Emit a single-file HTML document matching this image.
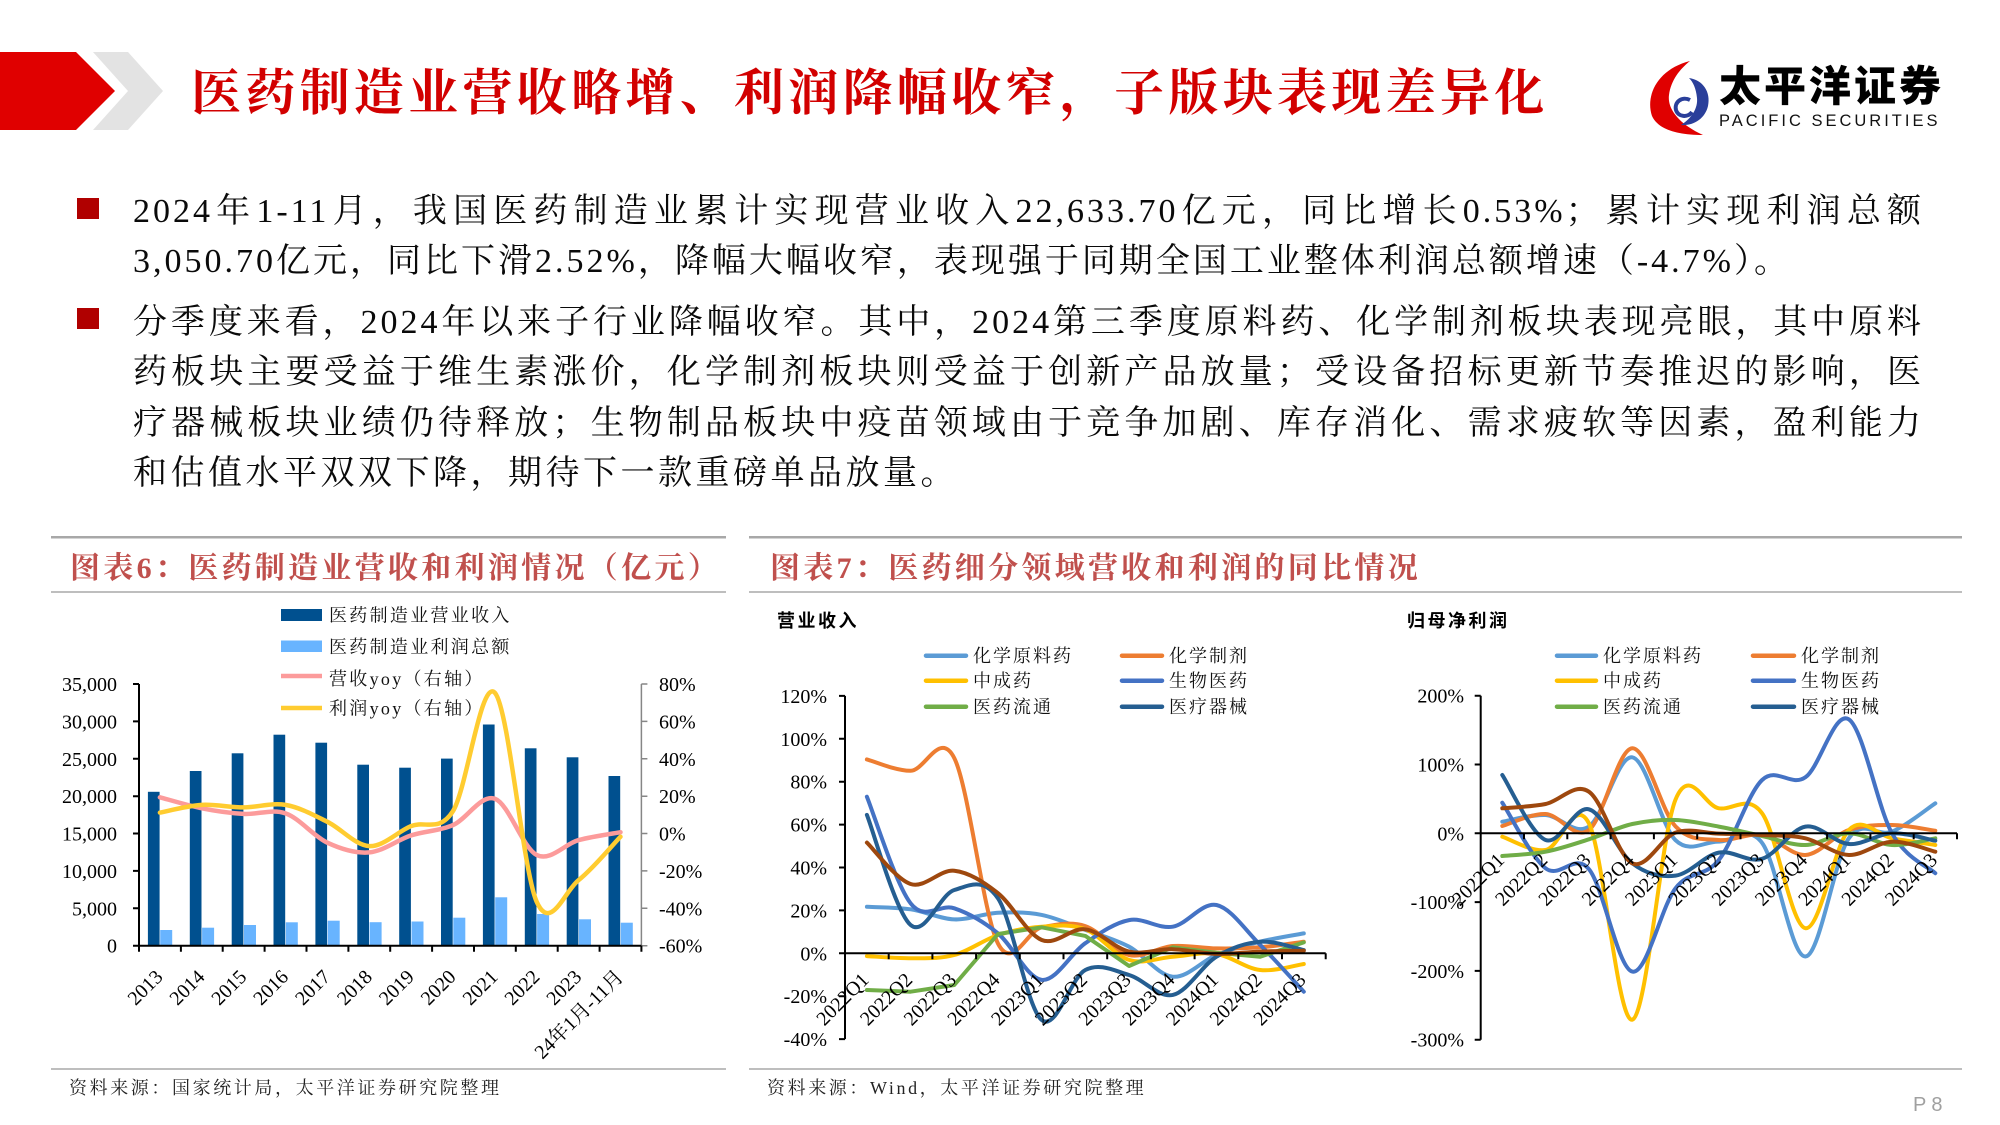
<!DOCTYPE html>
<html><head><meta charset="utf-8">
<style>
html,body{margin:0;padding:0;background:#fff;}
body{width:2000px;height:1125px;position:relative;overflow:hidden;font-family:"Liberation Serif","Noto Serif CJK SC",serif;}
svg{position:absolute;left:0;top:0;}
.ln{position:absolute;left:133px;width:1791px;font-size:34px;line-height:50px;letter-spacing:3px;color:#0a0a0a;white-space:normal;}
.j{text-align:justify;text-align-last:justify;}
.sq{position:absolute;left:77px;width:22px;height:21px;background:#b00000;}
</style></head><body>
<svg width="2000" height="1125" viewBox="0 0 2000 1125" xmlns="http://www.w3.org/2000/svg">
<!-- header -->
<polygon points="0,52 76,52 115,91 76,130 0,130" fill="#e00000"/>
<polygon points="93,52 128,52 163,91 128,130 93,130 128,91" fill="#e3e3e3"/>
<text x="191" y="110" font-family="'Noto Serif CJK SC','Liberation Serif',serif" font-weight="700" font-size="50" letter-spacing="4.3" fill="#d20000">医药制造业营收略增、利润降幅收窄，子版块表现差异化</text>
<!-- logo -->
<path d="M1690,61 C1658,69 1645,95 1652,116 C1658,129 1676,135 1703,135 C1681,125 1667,110 1669,95 C1671,80 1680,69 1690,61 Z" fill="#e00000"/>
<path d="M1689,78 C1703,80 1711,92 1708,106 C1705,119 1693,126 1681,125 C1692,118 1698,108 1697,98 C1696,88 1693,82 1689,78 Z" fill="#2a3f9a"/>
<path d="M1690,100 C1682,96 1674,102 1676,110 C1678,117 1688,118 1692,112" fill="none" stroke="#2a3f9a" stroke-width="4"/>
<text x="1719" y="101" font-family="'Noto Sans CJK SC',sans-serif" font-weight="900" font-size="42" letter-spacing="3" fill="#000">太平洋证券</text>
<text x="1719" y="126" font-family="'Liberation Sans',sans-serif" font-size="16.5" letter-spacing="3" fill="#111">PACIFIC SECURITIES</text>

<!-- panel frames -->
<g stroke="#a8a8a8" fill="none">
<line x1="51" y1="537.3" x2="726" y2="537.3" stroke-width="2.5"/>
<line x1="51" y1="592" x2="726" y2="592" stroke-width="1.5"/>
<line x1="51" y1="1069" x2="726" y2="1069" stroke-width="1.5"/>
<line x1="749" y1="537.3" x2="1962" y2="537.3" stroke-width="2.5"/>
<line x1="749" y1="592" x2="1962" y2="592" stroke-width="1.5"/>
<line x1="749" y1="1069" x2="1962" y2="1069" stroke-width="1.5"/>
</g>
<g font-family="'Liberation Serif','Noto Serif CJK SC',serif" font-weight="700" font-size="30" letter-spacing="3.3" fill="#c0504d">
<text x="70" y="578">图表6：医药制造业营收和利润情况（亿元）</text>
<text x="770" y="578">图表7：医药细分领域营收和利润的同比情况</text>
</g>
<g font-family="'Liberation Serif','Noto Serif CJK SC',serif" font-size="18" letter-spacing="2.6" fill="#222">
<text x="69" y="1094">资料来源：国家统计局，太平洋证券研究院整理</text>
<text x="767" y="1094">资料来源：Wind，太平洋证券研究院整理</text>
</g>
<text x="1913" y="1111" font-family="'Liberation Sans',sans-serif" font-size="20" letter-spacing="5" fill="#a0a0a0">P8</text>

<!-- LEFT CHART -->
<g fill="#00508f">
<rect x="147.9" y="791.8" width="11.7" height="153.9"/>
<rect x="189.8" y="771.0" width="11.7" height="174.7"/>
<rect x="231.7" y="753.3" width="11.7" height="192.4"/>
<rect x="273.5" y="734.7" width="11.7" height="211.0"/>
<rect x="315.4" y="742.7" width="11.7" height="203.0"/>
<rect x="357.3" y="764.7" width="11.7" height="181.0"/>
<rect x="399.2" y="767.7" width="11.7" height="178.0"/>
<rect x="441.0" y="758.6" width="11.7" height="187.1"/>
<rect x="482.9" y="724.5" width="11.7" height="221.2"/>
<rect x="524.8" y="748.3" width="11.7" height="197.4"/>
<rect x="566.7" y="757.3" width="11.7" height="188.4"/>
<rect x="608.5" y="776.0" width="11.7" height="169.7"/>
</g>
<g fill="#68b4ff">
<rect x="160.2" y="930.0" width="12" height="15.7"/>
<rect x="202.1" y="927.7" width="12" height="18.0"/>
<rect x="244.0" y="925.0" width="12" height="20.7"/>
<rect x="285.8" y="922.3" width="12" height="23.4"/>
<rect x="327.7" y="920.7" width="12" height="25.0"/>
<rect x="369.6" y="922.2" width="12" height="23.5"/>
<rect x="411.5" y="921.5" width="12" height="24.2"/>
<rect x="453.3" y="917.7" width="12" height="28.0"/>
<rect x="495.2" y="897.3" width="12" height="48.4"/>
<rect x="537.1" y="914.0" width="12" height="31.7"/>
<rect x="579.0" y="919.3" width="12" height="26.4"/>
<rect x="620.8" y="922.7" width="12" height="23.0"/>
</g>
<g id="lc"></g>
<path d="M641.4,684 V945.7 M641.4,684 h6 M641.4,721.4 h6 M641.4,758.8 h6 M641.4,796.2 h6 M641.4,833.5 h6 M641.4,870.9 h6 M641.4,908.3 h6 M641.4,945.7 h6" stroke="#868686" stroke-width="1.5" fill="none"/>
<path d="M139,684 V945.7 H641.4 M133,684 h6 M133,721.4 h6 M133,758.8 h6 M133,796.2 h6 M133,833.5 h6 M133,870.9 h6 M133,908.3 h6 M133,945.7 h6 M139,945.7 v6 M180.9,945.7 v6 M222.7,945.7 v6 M264.6,945.7 v6 M306.5,945.7 v6 M348.4,945.7 v6 M390.2,945.7 v6 M432.1,945.7 v6 M474,945.7 v6 M515.8,945.7 v6 M557.7,945.7 v6 M599.6,945.7 v6 M641.4,945.7 v6" stroke="#000" stroke-width="2" fill="none"/>
<g font-family="'Liberation Serif','Noto Serif CJK SC',serif" font-size="20" fill="#000" text-anchor="end">
<text x="117" y="691">35,000</text>
<text x="117" y="728.4">30,000</text>
<text x="117" y="765.8">25,000</text>
<text x="117" y="803.2">20,000</text>
<text x="117" y="840.5">15,000</text>
<text x="117" y="877.9">10,000</text>
<text x="117" y="915.3">5,000</text>
<text x="117" y="952.7">0</text>
</g>
<g font-family="'Liberation Serif',serif" font-size="20" fill="#000">
<text x="659" y="691">80%</text>
<text x="659" y="728.4">60%</text>
<text x="659" y="765.8">40%</text>
<text x="659" y="803.2">20%</text>
<text x="659" y="840.5">0%</text>
<text x="659" y="877.9">-20%</text>
<text x="659" y="915.3">-40%</text>
<text x="659" y="952.7">-60%</text>
</g>
<g font-family="'Liberation Serif','Noto Serif CJK SC',serif" font-size="20" fill="#000" text-anchor="end">
<text transform="translate(163.9,978) rotate(-45)">2013</text>
<text transform="translate(205.8,978) rotate(-45)">2014</text>
<text transform="translate(247.7,978) rotate(-45)">2015</text>
<text transform="translate(289.5,978) rotate(-45)">2016</text>
<text transform="translate(331.4,978) rotate(-45)">2017</text>
<text transform="translate(373.3,978) rotate(-45)">2018</text>
<text transform="translate(415.2,978) rotate(-45)">2019</text>
<text transform="translate(457,978) rotate(-45)">2020</text>
<text transform="translate(498.9,978) rotate(-45)">2021</text>
<text transform="translate(540.8,978) rotate(-45)">2022</text>
<text transform="translate(582.7,978) rotate(-45)">2023</text>
<text transform="translate(624.5,978) rotate(-45)">24年1月-11月</text>
</g>
<!-- left legend -->
<rect x="281" y="609" width="41" height="12" fill="#00508f"/>
<rect x="281" y="640.5" width="41" height="11.5" fill="#68b4ff"/>
<line x1="281" y1="676" x2="322" y2="676" stroke="#fc9b9b" stroke-width="4.5"/>
<line x1="281" y1="708" x2="322" y2="708" stroke="#ffcc30" stroke-width="4.5"/>
<g font-family="'Liberation Serif','Noto Serif CJK SC',serif" font-size="18" letter-spacing="2.3" fill="#111">
<text x="329" y="621.5">医药制造业营业收入</text>
<text x="329" y="652.8">医药制造业利润总额</text>
<text x="329" y="684.8">营收yoy（右轴）</text>
<text x="329" y="714.5">利润yoy（右轴）</text>
</g>

<!-- RIGHT CHART 1 -->
<g font-family="'Noto Sans CJK SC',sans-serif" font-weight="700" font-size="18" letter-spacing="2.5" fill="#000">
<text x="777" y="627">营业收入</text>
<text x="1407" y="627">归母净利润</text>
</g>
<g stroke-width="4.5" stroke-linecap="round">
<line x1="926" y1="655.7" x2="966" y2="655.7" stroke="#5b9bd5"/>
<line x1="926" y1="680.7" x2="966" y2="680.7" stroke="#ffc000"/>
<line x1="926" y1="706.7" x2="966" y2="706.7" stroke="#70ad47"/>
<line x1="1122" y1="655.7" x2="1162" y2="655.7" stroke="#ed7d31"/>
<line x1="1122" y1="680.7" x2="1162" y2="680.7" stroke="#4472c4"/>
<line x1="1122" y1="706.7" x2="1162" y2="706.7" stroke="#255e91"/>
<line x1="1557" y1="655.7" x2="1596" y2="655.7" stroke="#5b9bd5"/>
<line x1="1557" y1="680.7" x2="1596" y2="680.7" stroke="#ffc000"/>
<line x1="1557" y1="706.7" x2="1596" y2="706.7" stroke="#70ad47"/>
<line x1="1753" y1="655.7" x2="1794" y2="655.7" stroke="#ed7d31"/>
<line x1="1753" y1="680.7" x2="1794" y2="680.7" stroke="#4472c4"/>
<line x1="1753" y1="706.7" x2="1794" y2="706.7" stroke="#255e91"/>
</g>
<g font-family="'Liberation Serif','Noto Serif CJK SC',serif" font-size="18" letter-spacing="2" fill="#111">
<text x="973" y="662.2">化学原料药</text>
<text x="973" y="687.2">中成药</text>
<text x="973" y="713.2">医药流通</text>
<text x="1169" y="662.2">化学制剂</text>
<text x="1169" y="687.2">生物医药</text>
<text x="1169" y="713.2">医疗器械</text>
<text x="1603" y="662.2">化学原料药</text>
<text x="1603" y="687.2">中成药</text>
<text x="1603" y="713.2">医药流通</text>
<text x="1801" y="662.2">化学制剂</text>
<text x="1801" y="687.2">生物医药</text>
<text x="1801" y="713.2">医疗器械</text>
</g>
<g id="r1"></g>
<path d="M845,695.9 V1039.1 M839,695.9 h6 M839,738.8 h6 M839,781.7 h6 M839,824.6 h6 M839,867.5 h6 M839,910.4 h6 M839,953.3 h6 M839,996.2 h6 M839,1039.1 h6 M845,953.3 H1325.7 M888.7,953.3 v6 M932.4,953.3 v6 M976.1,953.3 v6 M1019.8,953.3 v6 M1063.5,953.3 v6 M1107.2,953.3 v6 M1150.9,953.3 v6 M1194.6,953.3 v6 M1238.3,953.3 v6 M1282,953.3 v6 M1325.7,953.3 v6" stroke="#000" stroke-width="2" fill="none"/>
<g font-family="'Liberation Serif',serif" font-size="20" fill="#000" text-anchor="end">
<text x="827" y="702.9">120%</text>
<text x="827" y="745.8">100%</text>
<text x="827" y="788.7">80%</text>
<text x="827" y="831.6">60%</text>
<text x="827" y="874.5">40%</text>
<text x="827" y="917.4">20%</text>
<text x="827" y="960.3">0%</text>
<text x="827" y="1003.2">-20%</text>
<text x="827" y="1046.1">-40%</text>
</g>
<g font-family="'Liberation Serif',serif" font-size="20" fill="#000" text-anchor="end">
<text transform="translate(869.9,981) rotate(-45)">2022Q1</text>
<text transform="translate(913.6,981) rotate(-45)">2022Q2</text>
<text transform="translate(957.3,981) rotate(-45)">2022Q3</text>
<text transform="translate(1001,981) rotate(-45)">2022Q4</text>
<text transform="translate(1044.7,981) rotate(-45)">2023Q1</text>
<text transform="translate(1088.4,981) rotate(-45)">2023Q2</text>
<text transform="translate(1132.1,981) rotate(-45)">2023Q3</text>
<text transform="translate(1175.8,981) rotate(-45)">2023Q4</text>
<text transform="translate(1219.5,981) rotate(-45)">2024Q1</text>
<text transform="translate(1263.2,981) rotate(-45)">2024Q2</text>
<text transform="translate(1306.9,981) rotate(-45)">2024Q3</text>
</g>

<!-- RIGHT CHART 2 -->
<g id="r2"></g>
<path d="M1480.7,695.7 V1039.7 M1474.7,695.7 h6 M1474.7,764.5 h6 M1474.7,833.3 h6 M1474.7,902.1 h6 M1474.7,970.9 h6 M1474.7,1039.7 h6 M1480.7,833.3 H1957 M1524,833.3 v6 M1567.3,833.3 v6 M1610.6,833.3 v6 M1653.9,833.3 v6 M1697.2,833.3 v6 M1740.5,833.3 v6 M1783.8,833.3 v6 M1827.1,833.3 v6 M1870.4,833.3 v6 M1913.7,833.3 v6 M1957,833.3 v6" stroke="#000" stroke-width="2" fill="none"/>
<g font-family="'Liberation Serif',serif" font-size="20" fill="#000" text-anchor="end">
<text x="1464" y="702.7">200%</text>
<text x="1464" y="771.5">100%</text>
<text x="1464" y="840.3">0%</text>
<text x="1464" y="909.1">-100%</text>
<text x="1464" y="977.9">-200%</text>
<text x="1464" y="1046.7">-300%</text>
</g>
<g font-family="'Liberation Serif',serif" font-size="20" fill="#000" text-anchor="end">
<text transform="translate(1505.4,861.3) rotate(-45)">2022Q1</text>
<text transform="translate(1548.7,861.3) rotate(-45)">2022Q2</text>
<text transform="translate(1592,861.3) rotate(-45)">2022Q3</text>
<text transform="translate(1635.3,861.3) rotate(-45)">2022Q4</text>
<text transform="translate(1678.6,861.3) rotate(-45)">2023Q1</text>
<text transform="translate(1721.9,861.3) rotate(-45)">2023Q2</text>
<text transform="translate(1765.2,861.3) rotate(-45)">2023Q3</text>
<text transform="translate(1808.5,861.3) rotate(-45)">2023Q4</text>
<text transform="translate(1851.8,861.3) rotate(-45)">2024Q1</text>
<text transform="translate(1895.1,861.3) rotate(-45)">2024Q2</text>
<text transform="translate(1938.4,861.3) rotate(-45)">2024Q3</text>
</g>
</svg>

<!-- body text -->
<div class="sq" style="top:198px"></div>
<div class="ln j" style="top:187px">2024年1-11月，我国医药制造业累计实现营业收入22,633.70亿元，同比增长0.53%；累计实现利润总额</div>
<div class="ln" style="top:237px">3,050.70亿元，同比下滑2.52%，降幅大幅收窄，表现强于同期全国工业整体利润总额增速（-4.7%）。</div>
<div class="sq" style="top:308px"></div>
<div class="ln j" style="top:298px">分季度来看，2024年以来子行业降幅收窄。其中，2024第三季度原料药、化学制剂板块表现亮眼，其中原料</div>
<div class="ln j" style="top:348.3px">药板块主要受益于维生素涨价，化学制剂板块则受益于创新产品放量；受设备招标更新节奏推迟的影响，医</div>
<div class="ln j" style="top:398.6px">疗器械板块业绩仍待释放；生物制品板块中疫苗领域由于竞争加剧、库存消化、需求疲软等因素，盈利能力</div>
<div class="ln" style="top:448.9px;letter-spacing:3.5px">和估值水平双双下降，期待下一款重磅单品放量。</div>

<script>
(function(){
var NS='http://www.w3.org/2000/svg';
function f(n){return n.toFixed(1);}
function smooth(p){var d='M'+f(p[0][0])+','+f(p[0][1]);var n=p.length;for(var i=0;i<n-1;i++){var p0=p[Math.max(i-1,0)],p1=p[i],p2=p[i+1],p3=p[Math.min(i+2,n-1)];var c1x=p1[0]+(p2[0]-p0[0])/6,c1y=p1[1]+(p2[1]-p0[1])/6,c2x=p2[0]-(p3[0]-p1[0])/6,c2y=p2[1]-(p3[1]-p1[1])/6;d+=' C'+f(c1x)+','+f(c1y)+' '+f(c2x)+','+f(c2y)+' '+f(p2[0])+','+f(p2[1]);}return d;}
function straight(p){var d='M'+f(p[0][0])+','+f(p[0][1]);for(var i=1;i<p.length;i++)d+=' L'+f(p[i][0])+','+f(p[i][1]);return d;}
function add(g,d,c,w){var e=document.createElementNS(NS,'path');e.setAttribute('d',d);e.setAttribute('stroke',c);e.setAttribute('stroke-width',w);e.setAttribute('fill','none');e.setAttribute('stroke-linecap','round');e.setAttribute('stroke-linejoin','round');g.appendChild(e);}
function pts(vals,x0,dx,yf){var r=[];for(var i=0;i<vals.length;i++)r.push([x0+dx*i,yf(vals[i])]);return r;}
// left chart
var lc=document.getElementById('lc');
var ly=function(p){return 945.7-(p+60)*1.86929;};
add(lc,smooth(pts([19.4,13.5,10.5,10.8,-4.9,-10.1,-1,4.5,18.6,-11.5,-3.5,0.7],159.9,41.87,ly)),'#fc9b9b',4.5);
add(lc,smooth(pts([11.2,15.3,14,15.3,6.3,-6.7,4,12,75.3,-36.5,-24.9,-1.7],159.9,41.87,ly)),'#ffcc30',4.5);
// right chart 1
var r1=document.getElementById('r1');
var y1=function(v){return 953.3-v*2.145;};
var s1=[
['#5b9bd5',[21.7,20.5,15.8,18.9,17.9,10.9,3.1,-10.9,-0.8,5.4,9.3],1],
['#ed7d31',[90.4,85.1,91,4.5,12.1,12.7,-0.8,3.4,2.3,2.8,5.4],1],
['#ffc000',[-1.3,-2.3,-0.8,8.5,12.4,11.2,-3.1,-1.6,-0.3,-7.8,-5],1],
['#4472c4',[73,23.3,21,9.3,-12.4,4.7,15.5,12.4,22.5,3.9,-17.9],1],
['#70ad47',[-17.1,-17.9,-14.8,9,12.1,8.1,-5.9,2.8,0.3,-1.6,5.1],0],
['#255e91',[64.5,13.2,29.5,25.6,-31.1,-7.8,-10.1,-19.4,-1.6,5.4,1.5],1],
['#9e480e',[51.6,32.3,38.5,28,6.2,11.2,0.8,1.9,-0.3,0.8,1.2],1]
];
s1.forEach(function(s){var p=pts(s[1],866.85,43.7,y1);add(r1,s[2]?smooth(p):straight(p),s[0],4);});
// right chart 2
var r2=document.getElementById('r2');
var y2=function(v){return 833.3-v*0.688;};
var s2=[
['#5b9bd5',[16.9,26.6,9.7,110.5,-10,-12,-14,-179,-7.3,2.4,43.6]],
['#ed7d31',[10.6,28,4.8,123.5,10,-9.7,-2.4,-31.5,4.8,12.1,3.8]],
['#ffc000',[-4.9,-24.3,14.5,-271,49,36.3,29,-138,4.8,-7.3,-17]],
['#4472c4',[44.5,-50.9,-52,-201,-80,-38.8,77.5,81.4,165.7,0,-58]],
['#70ad47',[-33,-26.7,-8.7,13.5,19.3,9.7,-3.9,-17,0,-17,-7.3]],
['#255e91',[84.7,-9.7,34.9,-43.6,-61.5,-28,-37,9.7,-15.6,0,-10.7]],
['#9e480e',[36.3,42.6,60.5,-43.6,1,-0.5,-2.4,-7.3,-31.5,-12.2,-26.7]]
];
s2.forEach(function(s){add(r2,smooth(pts(s[1],1502.35,43.3,y2)),s[0],4);});
})();
</script>
</body></html>
